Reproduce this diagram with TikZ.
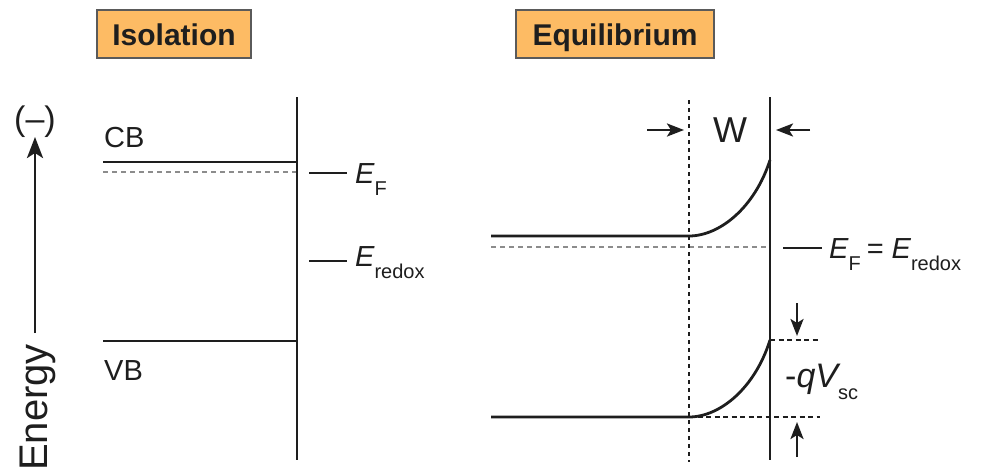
\documentclass[tikz,border=0pt]{standalone}
\usepackage{fontspec}
\setmainfont{Liberation Sans}
\usetikzlibrary{arrows.meta}
\definecolor{ink}{HTML}{1E1E1E}
\definecolor{boxfill}{HTML}{FDBB64}
\definecolor{boxline}{HTML}{5A5A5A}
\definecolor{fermigray}{HTML}{8C8C8C}
\newcommand\mysub[1]{\raisebox{-12pt}{\fontsize{20}{20}\selectfont\upshape #1}}
\tikzset{
  titlebox/.style={draw=boxline, line width=2pt, fill=boxfill, minimum height=48pt,
    inner sep=0pt, text height=22pt, text depth=0pt, text=ink, font=\fontsize{30}{30}\selectfont\bfseries},
  band/.style={line width=2.8pt, draw=ink},
  fermi/.style={line width=2.5pt, draw=fermigray, dash pattern=on 5pt off 4pt},
  dotline/.style={line width=2.8pt, draw=ink, dash pattern=on 4pt off 4pt},
  blackdash/.style={line width=2.6pt, draw=ink, dash pattern=on 5pt off 3.5pt},
  lbl/.style={inner sep=0pt, text=ink, font=\fontsize{29}{29}\selectfont},
  elbl/.style={inner sep=0pt, text=ink, font=\fontsize{29}{29}\selectfont},
  arr/.style={line width=2.6pt, draw=ink, -{Stealth[length=17pt,width=13pt,inset=4pt]}},
}
\begin{document}
\begin{tikzpicture}[x=1pt,y=-1pt]
\useasboundingbox[fill=white] (0,0) rectangle (988,471);

% titles
\node[titlebox, minimum width=154pt] (iso) at (174,34) {Isolation};
\node[titlebox, minimum width=198pt] (equ) at (615,34) {Equilibrium};

% energy axis
\coordinate (ax0) at (35,333);
\coordinate (ax1) at (35,137);
\draw[line width=2.8pt, draw=ink, -{Stealth[length=21pt,width=16pt,inset=5pt]}] (ax0) -- (ax1);
\node[inner sep=0pt, text=ink, font=\fontsize{34}{34}\selectfont, anchor=base] (minus) at (35,130) {(–)};
\node[inner sep=0pt, text=ink, font=\fontsize{40}{40}\selectfont, rotate=90, anchor=base west] (energy) at (47,471) {Energy};

% left panel
\coordinate (Ltop) at (297,97);
\coordinate (Lbot) at (297,460);
\coordinate (cbL) at (103,162);
\coordinate (cbR) at (297,162);
\coordinate (efL) at (103,172);
\coordinate (efR) at (297,172);
\coordinate (vbL) at (103,341);
\coordinate (vbR) at (297,341);
\draw[fermi] (efL) -- (efR);
\draw[band] (cbL) -- (cbR);
\draw[band] (vbL) -- (vbR);
\draw[band] (Ltop) -- (Lbot);
\node[lbl, anchor=base west] (cb) at (104,147) {CB};
\node[lbl, anchor=base west] (vb) at (104,380) {VB};

\coordinate (efd0) at (309,173);
\coordinate (efd1) at (347,173);
\draw[band] (efd0) -- (efd1);
\node[elbl, anchor=base west] (ef) at (355,183) {{\itshape E}\mysub{F}};
\coordinate (erd0) at (309,261);
\coordinate (erd1) at (347,261);
\draw[band] (erd0) -- (erd1);
\node[elbl, anchor=base west] (er) at (355,266) {{\itshape E}\mysub{redox}};

% right panel
\coordinate (Rtop) at (770,97);
\coordinate (Rbot) at (770,460);
\coordinate (Dtop) at (689,100);
\coordinate (Dbot) at (689,462);
\coordinate (rcbL) at (491,236);
\coordinate (rcbK) at (689,236);
\coordinate (rcbR) at (770,160);
\coordinate (refL) at (491,247);
\coordinate (refR) at (770,247);
\coordinate (rvbL) at (491,417);
\coordinate (rvbK) at (689,417);
\coordinate (rvbR) at (770,340);
\coordinate (dash1) at (820,340);
\coordinate (dash2) at (820,417);
\draw[fermi] (refL) -- (refR);
\draw[dotline] (Dtop) -- (Dbot);
\draw[blackdash] (rvbR) -- (dash1);
\draw[blackdash] (rvbK) -- (dash2);
\draw[band] (Rtop) -- (Rbot);
\draw[band] (rcbL) -- (rcbK) .. controls (720,236) and (755,207) .. (rcbR);
\draw[band] (rvbL) -- (rvbK) .. controls (720,417) and (755,388) .. (rvbR);

% W
\coordinate (wa0) at (647,130);
\coordinate (wa1) at (684,130);
\coordinate (wb0) at (810,130);
\coordinate (wb1) at (776,130);
\draw[arr] (wa0) -- (wa1);
\draw[arr] (wb0) -- (wb1);
\node[inner sep=0pt, text=ink, font=\fontsize{36}{36}\selectfont, anchor=base] (w) at (730,142) {W};

% E_F = E_redox
\coordinate (red0) at (783,248);
\coordinate (red1) at (822,248);
\draw[band] (red0) -- (red1);
\node[elbl, anchor=base west] (efer) at (829,258) {{\itshape E}\mysub{F}\hspace{6pt}=\hspace{8pt}{\itshape E}\mysub{redox}};

% qVsc
\coordinate (q0) at (797,303);
\coordinate (q1) at (797,336);
\coordinate (q2) at (797,457);
\coordinate (q3) at (797,422);
\draw[arr] (q0) -- (q1);
\draw[arr] (q2) -- (q3);
\node[inner sep=0pt, text=ink, font=\fontsize{34}{34}\selectfont, anchor=base west] (qv) at (785,387) {-{\itshape qV}\mysub{sc}};
\end{tikzpicture}
\end{document}
